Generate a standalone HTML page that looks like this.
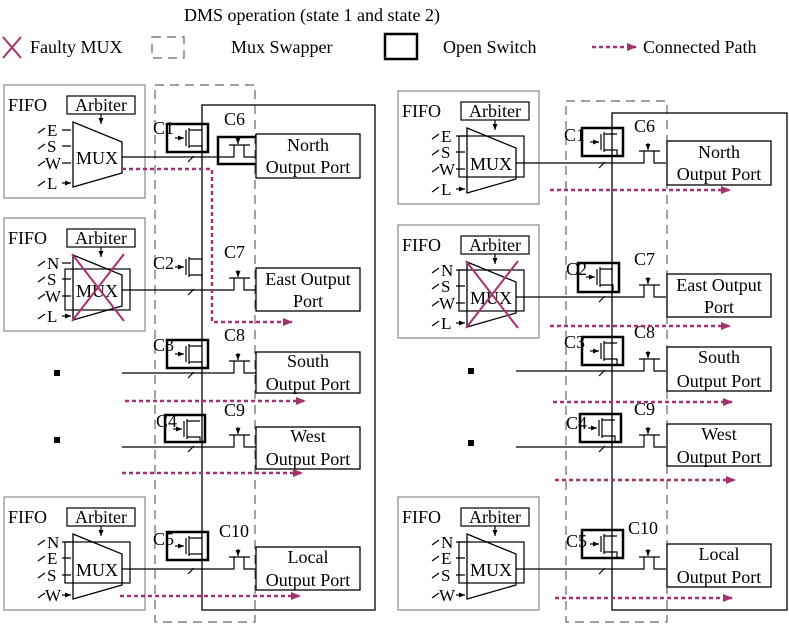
<!DOCTYPE html>
<html><head><meta charset="utf-8"><style>
html,body{margin:0;padding:0;background:#fff;}
svg{display:block;font-family:"Liberation Serif",serif;}
</style></head><body>
<svg width="789" height="624" viewBox="0 0 789 624" xmlns="http://www.w3.org/2000/svg">
<defs>
<marker id="pa" markerWidth="10" markerHeight="8" refX="9" refY="4" orient="auto" markerUnits="userSpaceOnUse"><path d="M0,0 L10,4 L0,8 Z" fill="#a3336f"/></marker>
<marker id="ba" markerWidth="6" markerHeight="5" refX="6" refY="2.5" orient="auto" markerUnits="userSpaceOnUse"><path d="M0,0 L6,2.5 L0,5 Z" fill="#000"/></marker>
<symbol id="fet" overflow="visible">
<path d="M8,14 H17" stroke="#000" stroke-width="1.2" marker-end="url(#ba)"/>
<path d="M19,6 V22 M22,4 V24 M22,6 H35 M22,22 H35 V28" stroke="#000" stroke-width="1.2" fill="none"/>
</symbol>
<symbol id="sw" overflow="visible">
<path d="M0,0 H6 V-12 M1,-12 H22 M16,-12 V0 H28" stroke="#000" stroke-width="1.2" fill="none"/>
<path d="M10,-20 V-13" stroke="#000" stroke-width="1.2" marker-end="url(#ba)"/>
</symbol>
<symbol id="mux" overflow="visible">
<path d="M69,37 L118,57 L118,88 L69,102 Z" fill="none" stroke="#000" stroke-width="1.3"/>
<rect x="0" y="0" width="141" height="113" fill="none" stroke="#888" stroke-width="1.2"/>
<rect x="63" y="11" width="68" height="18" fill="none" stroke="#000" stroke-width="1.2"/>
<path d="M97,29 V39" stroke="#000" stroke-width="1.2" marker-end="url(#ba)"/>
<path d="M34,48 L41,43 M34,64 L41,59 M34,81 L41,76 M34,101 L41,96" stroke="#000" stroke-width="1.2"/>
<path d="M58,45 H67 M58,61 H67 M58,78 H67 M58,98 H67" stroke="#000" stroke-width="1.2" marker-end="url(#ba)"/>
</symbol>
</defs>

<!-- legend -->
<text x="184" y="21" font-size="18">DMS operation (state 1 and state 2)</text>
<path d="M3,37 L21,58 M21,37 L3,58" stroke="#a3336f" stroke-width="2"/>
<text x="30" y="53" font-size="18">Faulty MUX</text>
<rect x="152" y="37" width="32" height="21" fill="none" stroke="#666" stroke-width="1.2" stroke-dasharray="9,6"/>
<text x="231" y="53" font-size="18">Mux Swapper</text>
<rect x="385" y="34" width="32" height="25" fill="none" stroke="#000" stroke-width="2.5"/>
<text x="443" y="53" font-size="18">Open Switch</text>
<path d="M592,47 H636" stroke="#a3336f" stroke-width="2.5" stroke-dasharray="4,3" marker-end="url(#pa)"/>
<text x="643" y="53" font-size="18">Connected Path</text>

<!-- ===== LEFT PANEL ===== -->
<rect x="155" y="85" width="100" height="537" fill="none" stroke="#666" stroke-width="1.2" stroke-dasharray="9,6"/>
<rect x="202" y="105" width="173" height="505" fill="none" stroke="#000" stroke-width="1.3"/>

<g transform="translate(4,85)"><use href="#mux"/>
<text x="4" y="26" font-size="18">FIFO</text><text x="97" y="26" font-size="18" text-anchor="middle">Arbiter</text>
<text x="93" y="79" font-size="18" text-anchor="middle">MUX</text>
<text x="43" y="51" font-size="17">E</text><text x="43" y="67" font-size="17">S</text><text x="41" y="84" font-size="17">W</text><text x="43" y="104" font-size="17">L</text></g>

<g transform="translate(4,218)"><use href="#mux"/>
<rect x="61" y="51" width="65" height="41" fill="none" stroke="#000" stroke-width="1.2"/>
<text x="4" y="26" font-size="18">FIFO</text><text x="97" y="26" font-size="18" text-anchor="middle">Arbiter</text>
<text x="93" y="79" font-size="18" text-anchor="middle">MUX</text>
<text x="43" y="51" font-size="17">N</text><text x="43" y="67" font-size="17">S</text><text x="41" y="84" font-size="17">W</text><text x="43" y="104" font-size="17">L</text>
<path d="M68,36 L120,103 M120,36 L68,103" stroke="#a3336f" stroke-width="2"/></g>

<g transform="translate(4,497)"><use href="#mux"/>
<rect x="61" y="45" width="65" height="41" fill="none" stroke="#000" stroke-width="1.2"/>
<text x="4" y="26" font-size="18">FIFO</text><text x="97" y="26" font-size="18" text-anchor="middle">Arbiter</text>
<text x="93" y="79" font-size="18" text-anchor="middle">MUX</text>
<text x="43" y="51" font-size="17">N</text><text x="43" y="67" font-size="17">E</text><text x="43" y="84" font-size="17">S</text><text x="41" y="104" font-size="17">W</text></g>

<rect x="54" y="370" width="6" height="6" fill="#000"/>
<rect x="54" y="437" width="6" height="6" fill="#000"/>

<path d="M122,157 H228 M122,290 H228 M122,373 H228 M122,447 H228 M122,569 H228" stroke="#000" stroke-width="1.2"/>
<path d="M188,162 L194,156 M188,295 L194,289 M188,378 L194,372 M188,452 L194,446 M188,574 L194,568" stroke="#000" stroke-width="1.2"/>
<use href="#sw" x="228" y="157"/><use href="#sw" x="228" y="290"/><use href="#sw" x="228" y="373"/><use href="#sw" x="228" y="447"/><use href="#sw" x="228" y="569"/>
<rect x="218" y="137" width="40" height="27" fill="none" stroke="#000" stroke-width="2.5"/>

<use href="#fet" x="167" y="124"/><rect x="167" y="124" width="41" height="28" fill="none" stroke="#000" stroke-width="2.5"/>
<use href="#fet" x="167" y="253"/>
<use href="#fet" x="167" y="340"/><rect x="167" y="340" width="41" height="28" fill="none" stroke="#000" stroke-width="2.5"/>
<use href="#fet" x="165" y="415"/><rect x="165" y="415" width="40" height="27" fill="none" stroke="#000" stroke-width="2.5"/>
<use href="#fet" x="167" y="532"/><rect x="167" y="532" width="41" height="28" fill="none" stroke="#000" stroke-width="2.5"/>

<text x="153" y="134" font-size="18">C1</text><text x="153" y="269" font-size="18">C2</text><text x="153" y="351" font-size="18">C3</text><text x="156" y="427" font-size="18">C4</text><text x="153" y="545" font-size="18">C5</text>
<text x="224" y="125" font-size="18">C6</text><text x="224" y="258" font-size="18">C7</text><text x="224" y="341" font-size="18">C8</text><text x="224" y="416" font-size="18">C9</text><text x="219" y="537" font-size="18">C10</text>

<rect x="256" y="134" width="104" height="44" fill="#fff" stroke="#000" stroke-width="1.3"/>
<text x="308" y="151" font-size="18" text-anchor="middle">North</text><text x="308" y="173" font-size="18" text-anchor="middle">Output Port</text>
<rect x="256" y="268" width="104" height="43" fill="#fff" stroke="#000" stroke-width="1.3"/>
<text x="308" y="285" font-size="18" text-anchor="middle">East Output</text><text x="308" y="307" font-size="18" text-anchor="middle">Port</text>
<rect x="256" y="352" width="104" height="41" fill="#fff" stroke="#000" stroke-width="1.3"/>
<text x="308" y="367" font-size="18" text-anchor="middle">South</text><text x="308" y="390" font-size="18" text-anchor="middle">Output Port</text>
<rect x="256" y="427" width="104" height="42" fill="#fff" stroke="#000" stroke-width="1.3"/>
<text x="308" y="442" font-size="18" text-anchor="middle">West</text><text x="308" y="465" font-size="18" text-anchor="middle">Output Port</text>
<rect x="256" y="547" width="104" height="43" fill="#fff" stroke="#000" stroke-width="1.3"/>
<text x="308" y="563" font-size="18" text-anchor="middle">Local</text><text x="308" y="586" font-size="18" text-anchor="middle">Output Port</text>

<g stroke="#a3336f" stroke-width="2.5" stroke-dasharray="4,3" fill="none" marker-end="url(#pa)">
<path d="M122,169 H212 V322 H292"/>
<path d="M125,401 H305"/><path d="M122,473 H302"/><path d="M120,596 H300"/>
</g>

<!-- ===== RIGHT PANEL ===== -->
<rect x="566" y="101" width="101" height="521" fill="none" stroke="#666" stroke-width="1.2" stroke-dasharray="9,6"/>
<rect x="612" y="113" width="175" height="497" fill="none" stroke="#000" stroke-width="1.3"/>

<g transform="translate(398,91)"><use href="#mux"/>
<rect x="61" y="45" width="65" height="41" fill="none" stroke="#000" stroke-width="1.2"/>
<text x="4" y="26" font-size="18">FIFO</text><text x="97" y="26" font-size="18" text-anchor="middle">Arbiter</text>
<text x="93" y="79" font-size="18" text-anchor="middle">MUX</text>
<text x="43" y="51" font-size="17">E</text><text x="43" y="67" font-size="17">S</text><text x="41" y="84" font-size="17">W</text><text x="43" y="104" font-size="17">L</text></g>

<g transform="translate(398,225)"><use href="#mux"/>
<rect x="61" y="45" width="65" height="41" fill="none" stroke="#000" stroke-width="1.2"/>
<text x="4" y="26" font-size="18">FIFO</text><text x="97" y="26" font-size="18" text-anchor="middle">Arbiter</text>
<text x="93" y="79" font-size="18" text-anchor="middle">MUX</text>
<text x="43" y="51" font-size="17">N</text><text x="43" y="67" font-size="17">S</text><text x="41" y="84" font-size="17">W</text><text x="43" y="104" font-size="17">L</text>
<path d="M68,36 L120,103 M120,36 L68,103" stroke="#a3336f" stroke-width="2"/></g>

<g transform="translate(398,497)"><use href="#mux"/>
<rect x="61" y="45" width="65" height="41" fill="none" stroke="#000" stroke-width="1.2"/>
<text x="4" y="26" font-size="18">FIFO</text><text x="97" y="26" font-size="18" text-anchor="middle">Arbiter</text>
<text x="93" y="79" font-size="18" text-anchor="middle">MUX</text>
<text x="43" y="51" font-size="17">N</text><text x="43" y="67" font-size="17">E</text><text x="43" y="84" font-size="17">S</text><text x="41" y="104" font-size="17">W</text></g>

<rect x="468" y="368" width="6" height="6" fill="#000"/>
<rect x="468" y="440" width="6" height="6" fill="#000"/>

<path d="M516,163 H638 M516,297 H638 M516,371 H638 M516,447 H638 M516,569 H638" stroke="#000" stroke-width="1.2"/>
<path d="M599,168 L605,162 M599,302 L605,296 M599,376 L605,370 M599,452 L605,446 M599,574 L605,568" stroke="#000" stroke-width="1.2"/>
<use href="#sw" x="638" y="163"/><use href="#sw" x="638" y="297"/><use href="#sw" x="638" y="371"/><use href="#sw" x="638" y="447"/><use href="#sw" x="638" y="569"/>

<use href="#fet" x="582" y="128"/><rect x="582" y="128" width="41" height="28" fill="none" stroke="#000" stroke-width="2.5"/>
<use href="#fet" x="578" y="263"/><rect x="578" y="263" width="41" height="29" fill="none" stroke="#000" stroke-width="2.5"/>
<use href="#fet" x="582" y="337"/><rect x="582" y="337" width="41" height="28" fill="none" stroke="#000" stroke-width="2.5"/>
<use href="#fet" x="580" y="414"/><rect x="580" y="414" width="41" height="28" fill="none" stroke="#000" stroke-width="2.5"/>
<use href="#fet" x="582" y="530"/><rect x="582" y="530" width="41" height="28" fill="none" stroke="#000" stroke-width="2.5"/>

<text x="564" y="141" font-size="18">C1</text><text x="566" y="275" font-size="18">C2</text><text x="564" y="348" font-size="18">C3</text><text x="566" y="429" font-size="18">C4</text><text x="566" y="547" font-size="18">C5</text>
<text x="634" y="132" font-size="18">C6</text><text x="634" y="265" font-size="18">C7</text><text x="634" y="338" font-size="18">C8</text><text x="634" y="415" font-size="18">C9</text><text x="628" y="534" font-size="18">C10</text>

<rect x="667" y="141" width="104" height="44" fill="#fff" stroke="#000" stroke-width="1.3"/>
<text x="719" y="158" font-size="18" text-anchor="middle">North</text><text x="719" y="180" font-size="18" text-anchor="middle">Output Port</text>
<rect x="667" y="274" width="104" height="43" fill="#fff" stroke="#000" stroke-width="1.3"/>
<text x="719" y="291" font-size="18" text-anchor="middle">East Output</text><text x="719" y="313" font-size="18" text-anchor="middle">Port</text>
<rect x="667" y="347" width="104" height="44" fill="#fff" stroke="#000" stroke-width="1.3"/>
<text x="719" y="363" font-size="18" text-anchor="middle">South</text><text x="719" y="387" font-size="18" text-anchor="middle">Output Port</text>
<rect x="667" y="424" width="104" height="42" fill="#fff" stroke="#000" stroke-width="1.3"/>
<text x="719" y="440" font-size="18" text-anchor="middle">West</text><text x="719" y="463" font-size="18" text-anchor="middle">Output Port</text>
<rect x="667" y="544" width="104" height="43" fill="#fff" stroke="#000" stroke-width="1.3"/>
<text x="719" y="560" font-size="18" text-anchor="middle">Local</text><text x="719" y="583" font-size="18" text-anchor="middle">Output Port</text>

<g stroke="#a3336f" stroke-width="2.5" stroke-dasharray="4,3" fill="none" marker-end="url(#pa)">
<path d="M550,190 H730"/><path d="M550,326 H730"/><path d="M553,402 H732"/><path d="M555,480 H735"/><path d="M555,598 H732"/>
</g>
</svg>
</body></html>
